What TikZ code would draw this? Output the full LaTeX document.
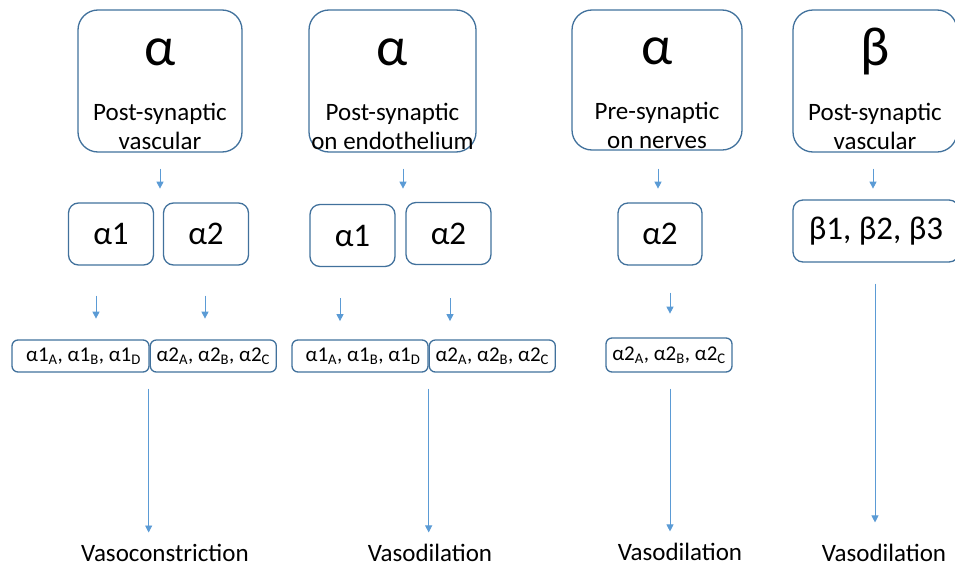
\documentclass[tikz,border=0pt]{standalone}
\usepackage{fontspec}
\setmainfont{Carlito}
\usetikzlibrary{positioning}
\usetikzlibrary{arrows.meta}
\definecolor{boxblue}{HTML}{41719C}
\definecolor{arrowblue}{HTML}{5B9BD5}
\tikzstyle{receptor} = [rectangle, rounded corners=20pt, draw=boxblue, line width=1.3pt, align=center, inner sep=0pt, minimum height=142pt, font=\fontsize{25}{29}\selectfont]
\tikzstyle{subtype} = [rectangle, rounded corners=10pt, draw=boxblue, line width=1.3pt, inner sep=0pt, minimum width=85pt, minimum height=62pt, font=\fontsize{33}{33}\selectfont]
\tikzstyle{isoform} = [rectangle, rounded corners=6pt, draw=boxblue, line width=1.3pt, inner sep=0pt, minimum height=32pt, font=\fontsize{21}{21}\selectfont]
\tikzstyle{effect} = [inner sep=0pt, anchor=base, font=\fontsize{25}{25}\selectfont]
\tikzstyle{arrow} = [arrowblue, line width=0.9pt, -{Triangle[width=7pt,length=7pt]}]
\newcommand{\biggreek}[1]{{\fontsize{55}{55}\selectfont\rule{0pt}{54pt}#1}\\[26pt]}

\begin{document}
\begin{tikzpicture}[x=1pt, y=-1pt]
        \useasboundingbox (0,0) rectangle (955,565);

        % alpha, post-synaptic vascular
        \node (postvasc) [receptor, minimum width=164pt] at (160,81) {\biggreek{α}Post-synaptic\\vascular};
        \node (pvOne) [subtype] at (111,234) {α1};
        \node (pvTwo) [subtype] at (206,234) {α2};
        \node (pvOneSub) [isoform, minimum width=137pt] at (80.5,356) {\hspace{6pt}α1\textsubscript{A}, α1\textsubscript{B}, α1\textsubscript{D}};
        \node (pvTwoSub) [isoform, minimum width=126pt, right=0pt of pvOneSub] {α2\textsubscript{A}, α2\textsubscript{B}, α2\textsubscript{C}};
        \node (vasocon) [effect] at (165,561) {Vasoconstriction};

        % alpha, post-synaptic on endothelium
        \node (postendo) [receptor, minimum width=167pt] at (392.5,81) {\biggreek{α}Post-synaptic\\on endothelium};
        \node (peOne) [subtype] at (352.5,235.5) {α1};
        \node (peTwo) [subtype] at (448.5,233.5) {α2};
        \node (peOneSub) [isoform, minimum width=136pt] at (360,356) {\hspace{6pt}α1\textsubscript{A}, α1\textsubscript{B}, α1\textsubscript{D}};
        \node (peTwoSub) [isoform, minimum width=126pt, right=0pt of peOneSub] {α2\textsubscript{A}, α2\textsubscript{B}, α2\textsubscript{C}};
        \node (vasodilA) [effect] at (430,561) {Vasodilation};

        % alpha, pre-synaptic on nerves
        \node (prenerve) [receptor, minimum width=170pt, minimum height=140pt] at (657,80) {\biggreek{α}Pre-synaptic\\on nerves};
        \node (pnTwo) [subtype, minimum width=84pt] at (660,234) {α2};
        \node (pnTwoSub) [isoform, minimum width=126pt, minimum height=34pt] at (669,355) {α2\textsubscript{A}, α2\textsubscript{B}, α2\textsubscript{C}};
        \node (vasodilB) [effect] at (680,560) {Vasodilation};

        % beta, post-synaptic vascular
        \node (betavasc) [receptor, minimum width=164pt] at (875,81) {\biggreek{β}Post-synaptic\\vascular};
        \node (bvAll) [subtype, minimum width=166pt] at (876,231) {β1, β2, β3};
        \node (vasodilC) [effect] at (884,561) {Vasodilation};

        \draw [arrow] ([yshift=-16pt]postvasc.south) -- ([yshift=-36pt]postvasc.south);
        \draw [arrow] ([xshift=-15pt,yshift=-30pt]pvOne.south) -- ([xshift=-15pt,yshift=-53pt]pvOne.south);
        \draw [arrow] ([xshift=-1pt,yshift=-30pt]pvTwo.south) -- ([xshift=-1pt,yshift=-53pt]pvTwo.south);
        \draw [arrow] ([xshift=-1pt,yshift=-16pt]pvOneSub.south east) -- ([xshift=-1pt,yshift=11pt]pvOneSub.south east |- vasocon.north);

        \draw [arrow] ([xshift=10.5pt,yshift=-16pt]postendo.south) -- ([xshift=10.5pt,yshift=-36pt]postendo.south);
        \draw [arrow] ([xshift=-12.5pt,yshift=-31pt]peOne.south) -- ([xshift=-12.5pt,yshift=-54pt]peOne.south);
        \draw [arrow] ([xshift=1.5pt,yshift=-33pt]peTwo.south) -- ([xshift=1.5pt,yshift=-56pt]peTwo.south);
        \draw [arrow] ([yshift=-16pt]peOneSub.south east) -- ([yshift=11pt]peOneSub.south east |- vasodilA.north);

        \draw [arrow] ([xshift=1pt,yshift=-18pt]prenerve.south) -- ([xshift=1pt,yshift=-38pt]prenerve.south);
        \draw [arrow] ([xshift=10pt,yshift=-27pt]pnTwo.south) -- ([xshift=10pt,yshift=-48pt]pnTwo.south);
        \draw [arrow] ([xshift=1pt,yshift=-16pt]pnTwoSub.south) -- ([xshift=1pt,yshift=11pt]pnTwoSub.south |- vasodilB.north);

        \draw [arrow] ([xshift=-2pt,yshift=-16pt]betavasc.south) -- ([xshift=-2pt,yshift=-36pt]betavasc.south);
        \draw [arrow] ([xshift=-1pt,yshift=-21pt]bvAll.south) -- ([xshift=-1pt,yshift=21pt]bvAll.south |- vasodilC.north);

    \end{tikzpicture}
\end{document}
